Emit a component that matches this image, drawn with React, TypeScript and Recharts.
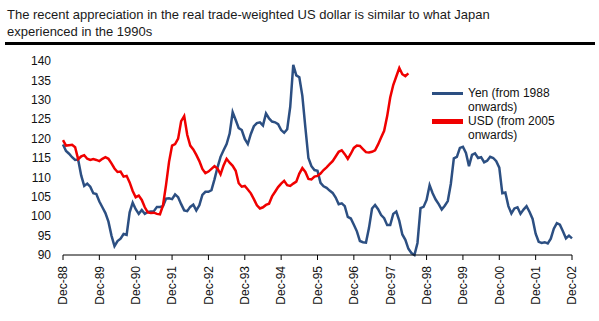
import { Legend, Line, LineChart, XAxis, YAxis } from "recharts"

// monthly index values, Dec-88 .. Dec-02
const yen = [
  118.5, 116.8, 116.1, 115.2, 114.5, 114.6, 110.5, 107.8, 108.4, 107.6,
  105.9, 105.7, 103.8, 102.3, 100.8, 98.6, 95.0, 92.3, 93.6, 94.2,
  95.4, 95.2, 101.0, 103.5, 101.8, 100.6, 101.6, 100.6, 101.1, 101.2,
  101.3, 102.4, 102.4, 102.6, 104.5, 104.6, 104.4, 105.6, 104.9, 103.1,
  101.5, 101.3, 102.4, 103.0, 101.5, 102.8, 105.5, 106.3, 106.3, 106.7,
  109.5, 112.6, 115.3, 117.0, 118.6, 121.3, 126.8, 124.8, 122.7, 122.2,
  119.9, 118.6, 121.2, 123.2, 124.0, 124.2, 123.4, 126.5, 125.2, 124.4,
  124.2, 123.7, 122.2, 121.5, 122.4, 128.2, 139.0, 136.3, 135.8, 131.0,
  122.8, 115.0, 112.9, 111.9, 111.7, 108.6, 107.7, 107.3, 106.6, 106.0,
  104.8, 103.1, 103.3, 102.6, 99.8, 99.4, 97.8, 96.1, 93.6, 93.3,
  93.2, 97.0, 102.0, 102.9, 101.8, 100.3, 99.5, 97.7, 97.7, 100.6,
  101.2, 98.8, 95.3, 93.9, 91.6, 90.5, 90.0, 93.1, 102.1, 102.4,
  104.2, 108.0, 105.9, 104.3, 103.1, 101.7, 102.7, 103.9, 108.3, 114.9,
  115.3, 117.6, 117.9, 116.3, 112.9, 115.8, 116.2, 115.0, 115.2, 113.9,
  114.3, 115.3, 115.0, 114.2, 112.5, 105.9, 106.1, 102.6, 100.7, 102.0,
  102.3, 100.6, 101.7, 102.6, 101.1, 99.3, 95.5, 93.4, 93.1, 93.3,
  93.0, 94.2, 96.8, 98.2, 97.8, 96.1, 94.3, 95.0, 94.3,
]

// USD from 2005 onwards, laid over the same months
const usd = [
  119.6, 118.2, 118.3, 118.4, 117.8, 114.7, 115.4, 115.7, 114.8, 114.5,
  114.7, 114.5, 114.2, 114.8, 115.2, 114.8, 113.6, 112.3, 111.4, 111.5,
  110.2, 110.4, 108.7, 106.5, 104.9, 105.3, 104.2, 102.3, 101.0, 100.8,
  100.9, 100.6, 100.5, 102.8, 108.0, 114.0, 118.2, 118.6, 120.0, 124.5,
  125.8, 121.0, 118.2, 117.2, 115.8, 114.2, 112.2, 111.1, 111.5, 112.2,
  112.9, 112.3, 110.8, 113.1, 114.8, 113.8, 113.0, 111.7, 108.5, 107.6,
  107.8, 106.9, 105.9, 104.4, 102.8, 102.0, 102.3, 102.9, 103.2, 105.1,
  106.3, 107.5, 108.4, 109.1, 108.0, 107.8, 108.4, 108.9, 111.0, 112.4,
  111.4, 109.6, 109.5, 110.2, 110.4, 111.0, 111.9, 112.6, 113.4, 114.2,
  115.4, 116.6, 117.0, 116.0, 114.8, 116.1, 117.6, 118.2, 118.1, 117.3,
  116.5, 116.4, 116.6, 117.0, 118.5, 120.3, 122.0, 125.8, 130.6, 133.8,
  136.0, 138.2, 136.6, 136.1, 136.8,
]

const monthNames = ["Jan", "Feb", "Mar", "Apr", "May", "Jun", "Jul", "Aug", "Sep", "Oct", "Nov", "Dec"]
const months = yen.map((_, i) => {
  const k = 11 + i
  const yy = (88 + Math.floor(k / 12)) % 100
  return `${monthNames[k % 12]}-${String(yy).padStart(2, "0")}`
})

const xTicks = [
  "Dec-88", "Dec-89", "Dec-90", "Dec-91", "Dec-92", "Dec-93", "Dec-94", "Dec-95",
  "Dec-96", "Dec-97", "Dec-98", "Dec-99", "Dec-00", "Dec-01", "Dec-02",
]
const yTicks = [90, 95, 100, 105, 110, 115, 120, 125, 130, 135, 140]

const title = [
  "The recent appreciation in the real trade-weighted US dollar is similar to what Japan",
  "experienced in the 1990s",
]

const BLUE = "#2C4F82"
const RED = "#F00000"
const FONT = "'Liberation Sans', Arial, sans-serif"

const data = months.map((m, i) => ({
  month: m,
  yen: yen[i],
  usd: i < usd.length ? usd[i] : null,
}))

const legendItems = [
  { name: "Yen (from 1988", sub: "onwards)", color: BLUE, width: 3 },
  { name: "USD (from 2005", sub: "onwards)", color: RED, width: 5 },
]

function DateTick(props: any) {
  const { x, y, payload } = props
  return (
    <text
      x={0}
      y={0}
      transform={`translate(${x},${y + 4}) rotate(-90)`}
      textAnchor="end"
      dy="0.36em"
      fontSize={12}
      fontFamily={FONT}
      fill="#111"
    >
      {payload.value}
    </text>
  )
}

function LegendBox() {
  return (
    <div style={{ fontFamily: FONT, fontSize: 12, lineHeight: "14px", color: "#111", textAlign: "left" }}>
      {legendItems.map((it) => (
        <div key={it.name} style={{ display: "flex", alignItems: "flex-start" }}>
          <div style={{ width: 31, height: 14, position: "relative", marginRight: 5 }}>
            <div
              style={{
                position: "absolute",
                left: 0,
                right: 0,
                top: 7 - it.width / 2,
                height: it.width,
                background: it.color,
              }}
            />
          </div>
          <div>
            <div>{it.name}</div>
            <div>{it.sub}</div>
          </div>
        </div>
      ))}
    </div>
  )
}

export default function App() {
  return (
    <div style={{ position: "absolute", left: 0, top: 0, width: 599, height: 321, background: "#fff" }}>
      <div
        style={{
          position: "absolute",
          left: 7,
          top: 6,
          fontFamily: FONT,
          fontSize: 13,
          lineHeight: "17px",
          color: "#1a1a1a",
        }}
      >
        {title.map((t) => (
          <div key={t}>{t}</div>
        ))}
      </div>
      <div style={{ position: "absolute", left: 5, top: 42, width: 590, height: 3, background: "#000" }} />
      <div style={{ position: "absolute", left: 0, top: 0 }}>
        <LineChart width={599} height={321} data={data} margin={{ top: 61, right: 27, bottom: 6, left: 8 }}>
          <XAxis
            dataKey="month"
            ticks={xTicks}
            interval={0}
            tick={<DateTick />}
            tickSize={5}
            height={60}
            axisLine={{ stroke: "#000", strokeWidth: 1 }}
            tickLine={{ stroke: "#000" }}
          />
          <YAxis
            domain={[90, 140]}
            ticks={yTicks}
            interval={0}
            width={55}
            axisLine={false}
            tickLine={false}
            tickMargin={6}
            tick={{ fontSize: 12, fontFamily: FONT, fill: "#111" }}
          />
          <Legend
            layout="horizontal"
            verticalAlign="middle"
            align="center"
            content={<LegendBox />}
            wrapperStyle={{ left: 432, top: 86, width: 150 }}
          />
          <Line
            type="linear"
            dataKey="yen"
            stroke={BLUE}
            strokeWidth={2.5}
            dot={false}
            isAnimationActive={false}
          />
          <Line
            type="linear"
            dataKey="usd"
            stroke={RED}
            strokeWidth={2.5}
            dot={false}
            isAnimationActive={false}
          />
        </LineChart>
      </div>
    </div>
  )
}
